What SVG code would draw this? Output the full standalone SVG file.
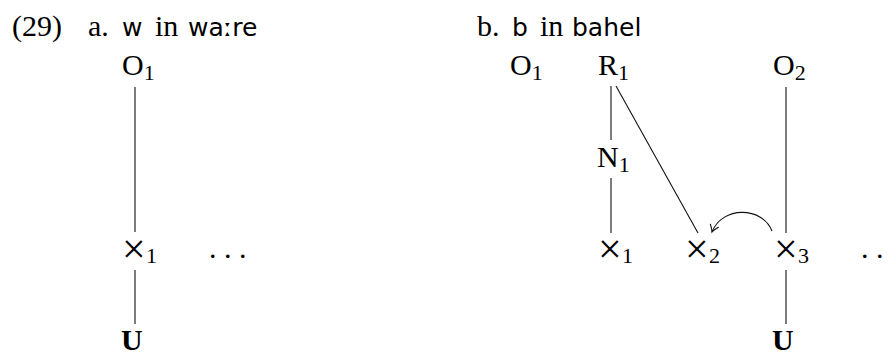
<svg xmlns="http://www.w3.org/2000/svg" width="892" height="352" viewBox="0 0 892 352">
<style>
.s{font-family:"Liberation Serif","Times New Roman",serif;font-size:30px;fill:#000}
.ss{font-family:"DejaVu Sans","Liberation Sans",sans-serif;font-size:25px;fill:#000}
.sub{font-size:22px}
.x{font-size:42px}
.b{font-weight:bold}
.ln{stroke:#111;stroke-width:1.1;fill:none}
</style>
<defs>
<marker id="hook" viewBox="-8 -6 10 12" markerWidth="10" markerHeight="12" refX="0" refY="0" orient="auto" markerUnits="userSpaceOnUse">
<path d="M-7,-4.5 Q-2.5,-1 0,0 Q-2.5,1 -7,4.5" fill="none" stroke="#111" stroke-width="1.1"/>
</marker>
</defs>
<rect width="892" height="352" fill="#fff"/>
<g id="headings">
<text class="s" x="12" y="36">(29)</text>
<text class="s" x="88" y="36">a.</text>
<text class="ss" x="122" y="36">w</text>
<text class="s" x="155" y="36">in</text>
<text class="ss" x="188" y="36">waːre</text>
<text class="s" x="477" y="36">b.</text>
<text class="ss" x="512" y="36">b</text>
<text class="s" x="540" y="36">in</text>
<text class="ss" x="572" y="36">bahel</text>
</g>
<g id="a-O1"><text class="s" x="122" y="75">O<tspan class="sub" dy="5">1</tspan></text></g>
<g id="a-x1"><text class="s" x="122" y="263"><tspan class="x">×</tspan><tspan class="sub" x="146" dy="0">1</tspan></text></g>
<g id="a-dots"><text class="s" x="209" y="258">. . .</text></g>
<g id="a-U"><text class="s b" x="121" y="350">U</text></g>
<g id="b-O1"><text class="s" x="510" y="75">O<tspan class="sub" dy="5">1</tspan></text></g>
<g id="b-R1"><text class="s" x="598" y="75">R<tspan class="sub" dy="5">1</tspan></text></g>
<g id="b-O2"><text class="s" x="773" y="75">O<tspan class="sub" dy="5">2</tspan></text></g>
<g id="b-N1"><text class="s" x="597" y="167">N<tspan class="sub" dy="5">1</tspan></text></g>
<g id="b-x1"><text class="s" x="598" y="263"><tspan class="x">×</tspan><tspan class="sub" x="622" dy="0">1</tspan></text></g>
<g id="b-x2"><text class="s" x="685" y="263"><tspan class="x">×</tspan><tspan class="sub" x="709" dy="0">2</tspan></text></g>
<g id="b-x3"><text class="s" x="774" y="263"><tspan class="x">×</tspan><tspan class="sub" x="798" dy="0">3</tspan></text></g>
<g id="b-dots"><text class="s" x="861" y="258">. . .</text></g>
<g id="b-U"><text class="s b" x="772" y="350">U</text></g>
<g id="connectors">
<line class="ln" x1="135" y1="87" x2="135" y2="232"/>
<line class="ln" x1="135" y1="270" x2="135" y2="324"/>
<line class="ln" x1="611" y1="86" x2="611" y2="140"/>
<line class="ln" x1="611" y1="178" x2="611" y2="233"/>
<line class="ln" x1="616" y1="86" x2="698" y2="233"/>
<line class="ln" x1="786" y1="87" x2="786" y2="233"/>
<line class="ln" x1="786" y1="270" x2="786" y2="324"/>
<path class="ln" d="M772,231 C762,206 722,206 712,232" marker-end="url(#hook)"/>
</g>
</svg>
